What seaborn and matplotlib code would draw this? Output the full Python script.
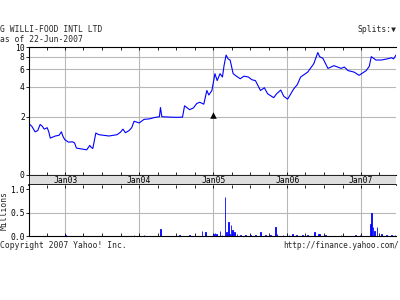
import matplotlib
matplotlib.use("Agg")
import matplotlib.pyplot as plt
import matplotlib.dates as mdates
import seaborn as sns
import pandas as pd

# ---------------- data ----------------
price_dates = [
    "2002-07-06", "2002-07-20", "2002-08-05", "2002-08-18", "2002-08-30", "2002-09-10",
    "2002-09-19", "2002-10-04", "2002-10-12", "2002-10-19", "2002-11-13", "2002-12-01",
    "2002-12-13", "2002-12-20", "2002-12-29", "2003-01-17", "2003-02-05", "2003-02-16",
    "2003-02-25", "2003-03-08", "2003-04-17", "2003-05-02", "2003-05-10", "2003-05-17",
    "2003-06-01", "2003-06-16", "2003-07-10", "2003-08-05", "2003-08-25", "2003-09-14",
    "2003-10-01", "2003-10-13", "2003-10-25", "2003-11-12", "2003-11-25", "2003-12-07",
    "2004-01-01", "2004-01-25", "2004-02-20", "2004-03-16", "2004-04-10", "2004-04-15",
    "2004-04-22", "2004-05-29", "2004-07-01", "2004-08-02", "2004-08-12", "2004-09-06",
    "2004-09-25", "2004-10-11", "2004-10-26", "2004-11-15", "2004-11-30", "2004-12-10",
    "2004-12-25", "2005-01-09", "2005-01-20", "2005-02-03", "2005-02-15", "2005-02-23",
    "2005-03-05", "2005-03-15", "2005-03-25", "2005-04-09", "2005-04-25", "2005-05-14",
    "2005-06-01", "2005-06-23", "2005-07-10", "2005-07-28", "2005-08-22", "2005-09-10",
    "2005-09-26", "2005-10-26", "2005-11-10", "2005-11-30", "2005-12-15", "2006-01-03",
    "2006-02-02", "2006-02-20", "2006-03-08", "2006-04-12", "2006-05-12", "2006-06-01",
    "2006-06-10", "2006-06-26", "2006-07-21", "2006-08-20", "2006-09-24", "2006-10-10",
    "2006-10-28", "2006-11-27", "2006-12-22", "2007-01-26", "2007-02-10", "2007-02-20",
    "2007-03-15", "2007-04-10", "2007-05-10", "2007-05-31", "2007-06-10", "2007-06-22",
]
price_values = [
    1.70, 1.60, 1.41, 1.45, 1.67, 1.60,
    1.50, 1.55, 1.40, 1.22, 1.28, 1.30,
    1.41, 1.28, 1.18, 1.11, 1.12, 1.09,
    0.97, 0.96, 0.93, 1.03, 0.98, 0.96,
    1.37, 1.32, 1.30, 1.28, 1.30, 1.32,
    1.40, 1.50, 1.38, 1.45, 1.55, 1.80,
    1.73, 1.88, 1.90, 1.96, 2.00, 2.47,
    2.00, 1.98, 1.97, 1.98, 2.57, 2.35,
    2.45, 2.71, 2.79, 2.67, 3.66, 3.30,
    3.66, 5.40, 4.60, 5.40, 5.00, 6.50,
    8.30, 7.60, 7.40, 5.40, 5.10, 4.80,
    5.10, 5.00, 4.70, 4.60, 3.66, 3.90,
    3.40, 3.10, 3.40, 3.70, 3.20, 3.00,
    3.80, 4.20, 5.00, 5.60, 6.80, 8.80,
    8.00, 7.70, 6.10, 6.50, 6.10, 6.30,
    5.80, 5.60, 5.20, 5.80, 6.40, 8.00,
    7.40, 7.40, 7.60, 7.80, 7.60, 8.30,
]

vol_dates = [
    "2002-08-30", "2002-10-19", "2003-01-03", "2003-03-08", "2003-06-16", "2003-09-01",
    "2003-12-07", "2004-01-25", "2004-04-15", "2004-07-18", "2004-09-06", "2004-11-06",
    "2004-11-23", "2005-01-01", "2005-01-09", "2005-01-17", "2005-02-03", "2005-02-12",
    "2005-02-28", "2005-03-08", "2005-03-16", "2005-03-23", "2005-03-30", "2005-04-05",
    "2005-04-15", "2005-04-27", "2005-05-14", "2005-06-08", "2005-07-03", "2005-07-28",
    "2005-08-22", "2005-09-16", "2005-10-10", "2005-11-04", "2005-11-12", "2005-12-12",
    "2006-01-09", "2006-01-26", "2006-02-15", "2006-03-17", "2006-04-12", "2006-05-17",
    "2006-06-05", "2006-06-10", "2006-07-10", "2006-08-15", "2006-09-24", "2006-11-01",
    "2006-12-05", "2006-12-27", "2007-02-15", "2007-02-21", "2007-02-28", "2007-03-08",
    "2007-03-20", "2007-04-10", "2007-05-05", "2007-06-01", "2007-06-18",
]
vol_values = [
    0.01, 0.01, 0.02, 0.01, 0.01, 0.01,
    0.02, 0.02, 0.15, 0.03, 0.02, 0.11,
    0.09, 0.04, 0.06, 0.04, 0.10, 0.03,
    0.84, 0.08, 0.30, 0.05, 0.23, 0.13,
    0.08, 0.04, 0.03, 0.02, 0.03, 0.02,
    0.08, 0.02, 0.02, 0.19, 0.04, 0.02,
    0.02, 0.04, 0.02, 0.03, 0.02, 0.08,
    0.05, 0.04, 0.02, 0.01, 0.02, 0.01,
    0.02, 0.03, 0.26, 0.49, 0.19, 0.10,
    0.20, 0.04, 0.03, 0.03, 0.02,
]

price_ticks = [0.52, 2, 4, 6, 8, 10]
price_tick_labels = ["0", "2", "4", "6", "8", "10"]
vol_ticks = [0.0, 0.5, 1.0]
vol_tick_labels = ["0.0", "0.5", "1.0"]
year_labels = ["Jan03", "Jan04", "Jan05", "Jan06", "Jan07"]
year_dates = ["2003-01-01", "2004-01-01", "2005-01-01", "2006-01-01", "2007-01-01"]
split_dates = ["2005-01-01"]
split_marks = [2.08]

# ---------------- style ----------------
sns.set_theme(style="white")
plt.rcParams['font.family'] = ['DejaVu Sans Mono', 'DejaVu Sans']
FS = 5.8
GRID = "#b8b8b8"
BLUE = "#0000ff"

price = pd.DataFrame({"date": pd.to_datetime(price_dates), "price": price_values})
vol = pd.DataFrame({"date": pd.to_datetime(vol_dates), "vol": vol_values})
years = pd.to_datetime(year_dates)
xmin, xmax = pd.Timestamp("2002-07-06"), pd.Timestamp("2007-06-22")

fig = plt.figure(figsize=(4, 3), dpi=100)
W, H = 400, 300
L, R = 29, 396
ax = fig.add_axes([L / W, 1 - 175 / H, (R - L) / W, 128 / H])
band = fig.add_axes([L / W, 1 - 185 / H, (R - L) / W, 10 / H])
axv = fig.add_axes([L / W, 1 - 236 / H, (R - L) / W, 51 / H])

# price panel
sns.lineplot(data=price, x="date", y="price", ax=ax, color=BLUE, lw=0.8)
sns.scatterplot(x=pd.to_datetime(split_dates), y=split_marks, ax=ax, marker="^",
                color="black", s=22, edgecolor="black", linewidth=0, zorder=5)
ax.set_yscale("log")
ax.set_ylim(0.52, 10)
ax.set_xlim(xmin, xmax)
ax.set_yticks(price_ticks)
ax.set_yticklabels(price_tick_labels)
ax.yaxis.set_minor_locator(matplotlib.ticker.NullLocator())
ax.set_xticks(years)
ax.xaxis.set_minor_locator(mdates.MonthLocator(bymonth=[1, 4, 7, 10]))
ax.set_xticklabels([])
ax.set_xlabel("")
ax.set_ylabel("")
for v in price_ticks[1:-1]:
    ax.axhline(v, color=GRID, lw=0.8, zorder=0)
for d in years:
    ax.axvline(d, color=GRID, lw=0.8, zorder=0)
ax.tick_params(axis="y", labelsize=FS, length=2, width=0.6, pad=1, colors="black", left=True)
ax.tick_params(axis="x", which="both", direction="in", length=2, width=0.6,
               top=True, bottom=True, colors="black")
for s in ax.spines.values():
    s.set_color("black")
    s.set_linewidth(0.8)
ax.spines["right"].set_visible(False)

# date band
band.set_facecolor("#dedede")
band.set_xlim(mdates.date2num(xmin), mdates.date2num(xmax))
band.set_ylim(0, 1)
band.set_xticks([])
band.set_yticks([])
for d, lab in zip(years, year_labels):
    band.text(mdates.date2num(d), 0.45, lab, ha="center", va="center", fontsize=FS, color="black")
for s in band.spines.values():
    s.set_color("black")
    s.set_linewidth(0.6)
band.spines["bottom"].set_linewidth(1.2)
band.spines["right"].set_visible(False)

# volume panel
axv.bar(vol["date"], vol["vol"], width=3.0, color=BLUE, edgecolor=BLUE, linewidth=0.6)
axv.set_xlim(xmin, xmax)
axv.set_ylim(0, 1.09)
axv.set_yticks(vol_ticks)
axv.set_yticklabels(vol_tick_labels)
axv.axhline(0.5, color=GRID, lw=0.8, zorder=0)
for d in years:
    axv.axvline(d, color=GRID, lw=0.8, zorder=0)
axv.set_xticks(years)
axv.xaxis.set_minor_locator(mdates.MonthLocator(bymonth=[1, 4, 7, 10]))
axv.set_xticklabels([])
axv.tick_params(axis="x", which="both", direction="in", length=2, width=0.6,
                top=True, bottom=True, colors="black")
axv.tick_params(axis="y", labelsize=FS, length=2, width=0.6, pad=1, colors="black", left=True)
axv.set_ylabel("Millions", fontsize=FS, labelpad=1)
for s in axv.spines.values():
    s.set_color("black")
    s.set_linewidth(0.8)
axv.spines["right"].set_visible(False)
axv.spines["top"].set_visible(False)

# texts
fig.text(0, 1 - 29 / H, "G WILLI-FOOD INTL LTD", fontsize=FS, va="center", ha="left")
fig.text(0, 1 - 39 / H, "as of 22-Jun-2007", fontsize=FS, va="center", ha="left")
fig.text(R / W, 1 - 29 / H, "Splits:\u25bc", fontsize=FS, va="center", ha="right")
fig.text(0, 1 - 245.5 / H, "Copyright 2007 Yahoo! Inc.", fontsize=FS, va="center", ha="left")
fig.text(399 / W, 1 - 245.5 / H, "http://finance.yahoo.com/", fontsize=5.6, va="center", ha="right")

fig.savefig("out.png", dpi=100, facecolor="white")
